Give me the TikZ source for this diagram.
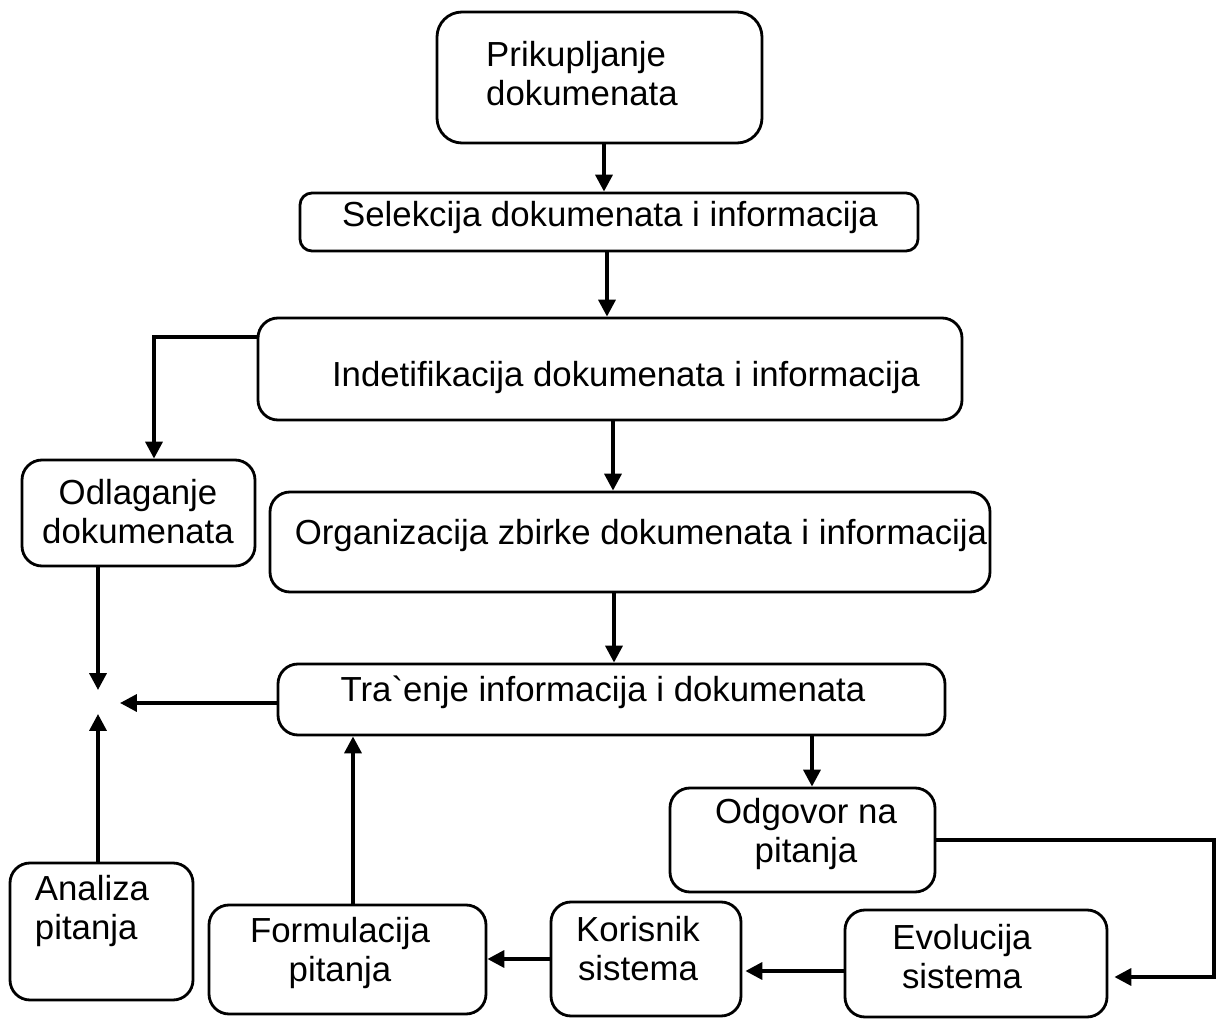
\documentclass[tikz,border=0pt]{standalone}
\usepackage{fontspec}
\setmainfont{Liberation Sans}
\usepackage{tikz}
\usetikzlibrary{arrows.meta,positioning,calc}

\begin{document}
\begin{tikzpicture}[
    box/.style={draw, line width=0.8pt, rounded corners=2mm},
    txt/.style={inner sep=0pt, align=center, font=\fontsize{9.9}{11.1}\selectfont},
    arr/.style={line width=1.05pt, -{Triangle[length=4.8pt,width=4.8pt]}}
  ]
  \useasboundingbox (0,0) rectangle (12.17,-10.19);
  % Boxes
  \node[box, rounded corners=2.5mm, minimum width=3.25cm, minimum height=1.31cm] (prik) at (5.995,-0.775) {};
  \node[box, rounded corners=1.2mm, minimum width=6.18cm, minimum height=0.58cm] (sel) at (6.09,-2.22) {};
  \node[box, minimum width=7.04cm, minimum height=1.02cm] (ind) at (6.10,-3.69) {};
  \node[box, minimum width=2.33cm, minimum height=1.06cm] (odl) at (1.385,-5.13) {};
  \node[box, minimum width=7.20cm, minimum height=1.00cm] (org) at (6.30,-5.42) {};
  \node[box, minimum width=6.67cm, minimum height=0.71cm] (tra) at (6.115,-6.995) {};
  \node[box, minimum width=2.65cm, minimum height=1.04cm] (odg) at (8.025,-8.40) {};
  \node[box, minimum width=1.83cm, minimum height=1.37cm] (ana) at (1.015,-9.315) {};
  \node[box, minimum width=2.77cm, minimum height=1.09cm] (form) at (3.475,-9.595) {};
  \node[box, minimum width=1.90cm, minimum height=1.14cm] (kor) at (6.46,-9.59) {};
  \node[box, minimum width=2.62cm, minimum height=1.07cm] (evo) at (9.76,-9.635) {};
  % Labels
  \node[txt, align=left] (prik-t) at (5.82,-0.74) {Prikupljanje\\dokumenata};
  \node[txt] (sel-t) at (6.10,-2.18) {Selekcija dokumenata i informacija};
  \node[txt] (ind-t) at (6.26,-3.78) {Indetifikacija dokumenata i informacija};
  \node[txt] (odl-t) at (1.38,-5.12) {Odlaganje\\dokumenata};
  \node[txt] (org-t) at (6.41,-5.36) {Organizacija zbirke dokumenata i informacija};
  \node[txt] (tra-t) at (6.03,-6.92) {Tra\textasciigrave enje informacija i dokumenata};
  \node[txt] (odg-t) at (8.06,-8.34) {Odgovor na\\pitanja};
  \node[txt, align=left] (ana-t) at (0.92,-9.11) {Analiza\\pitanja};
  \node[txt] (form-t) at (3.40,-9.53) {Formulacija\\pitanja};
  \node[txt] (kor-t) at (6.38,-9.49) {Korisnik\\sistema};
  \node[txt] (evo-t) at (9.62,-9.57) {Evolucija\\sistema};
  % Helper points
  \coordinate (colA) at (6.04,0);
  \coordinate (colB) at (6.07,0);
  \coordinate (colC) at (6.13,0);
  \coordinate (colD) at (6.14,0);
  \coordinate (colE) at (3.53,0);
  \coordinate (colF) at (8.12,0);
  \coordinate (colG) at (0.98,0);
  \coordinate (colH) at (1.54,0);
  \coordinate (rowI) at (0,-3.37);
  \coordinate (meet) at (0.98,-7.03);
  \coordinate (rgt) at (12.14,-9.77);
  \coordinate (rowL) at (0,-9.71);
  % Main flow
  \draw[arr] (colA |- prik.south) -- (colA |- sel.north);
  \draw[arr] (colB |- sel.south) -- (colB |- ind.north);
  \draw[arr] (colC |- ind.south) -- (colC |- org.north);
  \draw[arr] (colD |- org.south) -- (colD |- tra.north);
  \draw[arr] (ind.west |- rowI) -| (colH |- odl.north);
  % Into the meeting point
  \draw[arr, shorten >=1.3mm] (colG |- odl.south) -- (meet);
  \draw[arr, shorten >=1.1mm] (colG |- ana.north) -- (meet);
  \draw[arr, shorten >=2.2mm] (tra.west |- meet) -- (meet);
  % Lower loop
  \draw[arr] (colF |- tra.south) -- (colF |- odg.north);
  \draw[arr, shorten >=0.6mm] (odg.east) -| (rgt) -- (evo.east |- rgt);
  \draw[arr, shorten >=0.3mm] (evo.west |- rowL) -- (kor.east |- rowL);
  \draw[arr] (kor.west) -- (form.east |- kor.west);
  \draw[arr] (colE |- form.north) -- (colE |- tra.south);
\end{tikzpicture}
\end{document}
